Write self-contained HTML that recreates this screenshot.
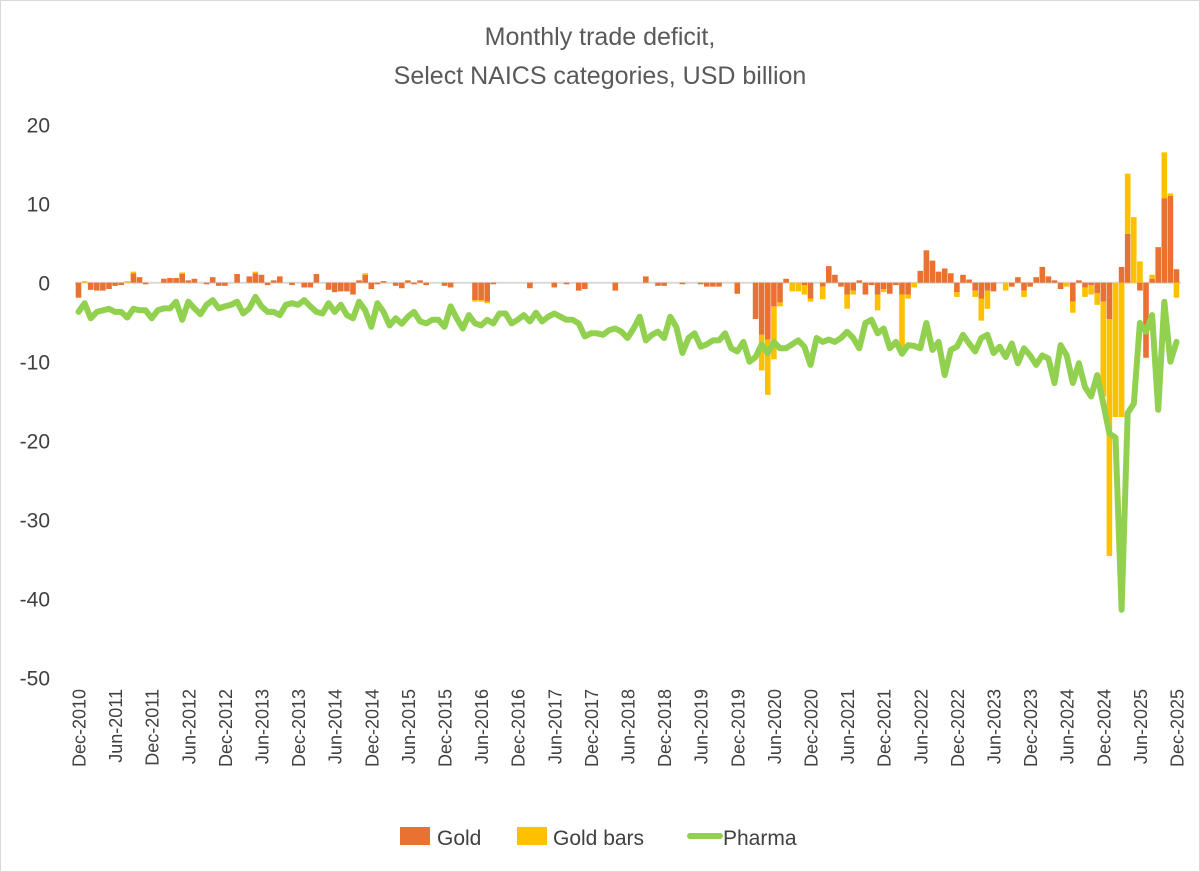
<!DOCTYPE html>
<html><head><meta charset="utf-8"><style>
html,body{margin:0;padding:0;background:#fff;}
svg{display:block;font-family:"Liberation Sans",Arial,sans-serif;}
</style></head><body>
<svg id="chart" width="1200" height="872" viewBox="0 0 1200 872">
<rect x="0.5" y="0.5" width="1199" height="871" fill="#fff" stroke="#d9d9d9"/>
<text x="600" y="45" text-anchor="middle" font-size="25" fill="#595959">Monthly trade deficit,</text>
<text x="600" y="84" text-anchor="middle" font-size="25" fill="#595959">Select NAICS categories, USD billion</text>
<g id="yaxis"></g>
<g id="xaxis"></g>
<g id="plot"></g>
<g>
<g><rect x="400" y="827" width="30" height="18" fill="#e97132"/><text x="437" y="845" font-size="21" fill="#404040">Gold</text></g>
<g><rect x="517" y="827" width="30" height="18" fill="#ffc000"/><text x="553" y="845" font-size="21" fill="#404040">Gold bars</text></g>
<g><line x1="690" y1="836" x2="720" y2="836" stroke="#92d050" stroke-width="6" stroke-linecap="round"/><text x="723" y="845" font-size="21" fill="#404040">Pharma</text></g>
</g>
</svg>
<script>
const yTicks = [20, 10, 0, -10, -20, -30, -40, -50];
const xTickLabels = ["Dec-2010","Jun-2011","Dec-2011","Jun-2012","Dec-2012","Jun-2013","Dec-2013","Jun-2014","Dec-2014","Jun-2015","Dec-2015","Jun-2016","Dec-2016","Jun-2017","Dec-2017","Jun-2018","Dec-2018","Jun-2019","Dec-2019","Jun-2020","Dec-2020","Jun-2021","Dec-2021","Jun-2022","Dec-2022","Jun-2023","Dec-2023","Jun-2024","Dec-2024","Jun-2025","Dec-2025"];
const gold = [-1.9,0,-0.9,-1.0,-1.0,-0.8,-0.4,-0.3,0,1.2,0.7,-0.2,0,0,0.5,0.6,0.6,1.1,0.3,0.5,0,-0.2,0.7,-0.4,-0.4,0,1.1,0,0.8,1.2,1.0,-0.3,0.3,0.8,0,-0.3,0,-0.6,-0.6,1.1,0,-0.9,-1.2,-1.1,-1.1,-1.5,0.3,1.0,-0.8,-0.2,0.2,0,-0.4,-0.7,0.3,-0.2,0.3,-0.3,0,0,-0.4,-0.6,0,0,0,-2.2,-2.2,-2.4,-0.2,0,0,0,0,0,-0.7,0,0,0,-0.6,0,-0.2,0,-1.0,-0.8,0,0,0,0,-1.0,0,0,0,0,0.8,0,-0.4,-0.4,0,0,-0.2,0,0,-0.2,-0.5,-0.5,-0.5,0,0,-1.4,0,0,-4.6,-6.6,-7.2,-3.0,-2.5,0.5,0,0,-0.3,-2.0,0,-0.5,2.1,1.0,-0.5,-1.5,-1.0,0.3,-1.5,-0.3,-1.5,-0.8,-1.4,-0.3,-1.5,-1.5,0,1.5,4.1,2.8,1.4,1.8,1.2,-1.2,1.0,0.4,-1.0,-2.0,-1.0,-1.1,0,0,-0.5,0.7,-1.0,-0.5,0.7,2.0,0.8,0.3,-0.8,0,-2.4,0.3,-0.6,-0.3,-1.3,-2.4,-4.6,0,2.0,6.2,0,-1.0,-9.5,0.5,4.5,10.7,11.0,1.7];
const goldBars = [0,0.2,0,0,0,0,0,0,0.2,0.2,0,0,0,0,0,0,0,0.2,0,0,0,0,0,0,0,0,0,0,0,0.2,0,0,0,0,0,0,0,0,0,0,0,0,0,0,0,0,0,0.2,0,0,0,0,0,0,0,0,0,0,0,0,0,0,0,0,0,-0.2,-0.2,-0.2,0,0,0,0,0,0,0,0,0,0,0,0,0,0,0,0,0,0,0,0,0,0,0,0,0,0,0,0,0,0,0,0,0,0,0,0,0,0,0,0,0,0,0,0,-4.5,-7.0,-6.7,-0.5,0,-1.1,-1.1,-1.2,-0.4,0,-1.6,0,0,0,-1.8,-0.5,0,0,0,-2.0,-0.4,0,0,-7.0,-0.5,-0.6,0,0,0,0,0,0,-0.6,0,0,-0.8,-2.8,-2.3,0,0,-1.0,0,0,-0.8,0,0,0,0,0,0,-0.5,-1.4,0,-1.2,-1.2,-1.5,-12.0,-30.0,-17.0,-17.0,7.6,8.3,2.7,0,0.5,0,5.8,0.3,-1.9];
const pharma = [-3.7,-2.6,-4.5,-3.7,-3.5,-3.3,-3.7,-3.7,-4.4,-3.3,-3.5,-3.5,-4.5,-3.5,-3.25,-3.25,-2.4,-4.7,-2.4,-3.25,-4.0,-2.8,-2.2,-3.25,-3.0,-2.8,-2.4,-3.9,-3.25,-1.8,-3.0,-3.7,-3.7,-4.1,-2.8,-2.6,-2.8,-2.2,-3.0,-3.7,-3.9,-2.6,-3.7,-2.8,-4.1,-4.5,-2.4,-3.5,-5.6,-2.6,-3.7,-5.4,-4.5,-5.2,-4.3,-3.7,-4.9,-5.15,-4.7,-4.7,-5.6,-3.0,-4.5,-5.8,-4.1,-5.15,-5.4,-4.7,-5.15,-3.9,-3.9,-5.15,-4.7,-4.1,-4.9,-3.8,-4.9,-4.3,-3.9,-4.3,-4.7,-4.7,-5.15,-6.8,-6.4,-6.4,-6.6,-6.0,-5.8,-6.2,-7.0,-5.8,-4.3,-7.3,-6.6,-6.2,-7.0,-4.3,-5.6,-8.9,-7.0,-6.4,-8.1,-7.8,-7.3,-7.3,-6.4,-8.3,-8.7,-7.5,-10.0,-9.4,-7.8,-8.9,-7.5,-8.3,-8.3,-7.8,-7.3,-8.1,-10.4,-7.0,-7.5,-7.2,-7.5,-7.0,-6.2,-7.0,-8.3,-5.1,-4.7,-6.4,-5.8,-8.3,-7.5,-9.0,-7.9,-8.0,-8.3,-5.1,-8.5,-7.5,-11.7,-8.5,-8.1,-6.6,-7.7,-8.7,-7.0,-6.6,-8.9,-8.1,-9.4,-7.7,-10.2,-8.3,-9.2,-10.4,-9.2,-9.6,-12.7,-7.9,-9.2,-12.7,-10.2,-13.2,-14.4,-11.7,-15.3,-19.1,-19.6,-41.4,-16.5,-15.3,-5.1,-6.2,-4.1,-16.1,-2.4,-10.0,-7.5];

const NS = "http://www.w3.org/2000/svg";
const x0 = 78.5, step = 6.1, barW = 5.6;
function xScale(i){ return x0 + i*step; }
function yScale(v){ return 282.7 - v*7.9; }
function mk(tag, attrs, parent){ const e=document.createElementNS(NS,tag); for(const k in attrs) e.setAttribute(k,attrs[k]); parent.appendChild(e); return e; }

const yaxis=document.getElementById('yaxis');
yTicks.forEach(t=>{
  const e=mk('text',{x:50,y:yScale(t)+8,'text-anchor':'end','font-size':21,fill:'#404040'},yaxis);
  e.textContent=String(t);
  
  
});
const xaxis=document.getElementById('xaxis');
xTickLabels.forEach((lab,k)=>{
  const x=xScale(k*6)+7;
  const e=mk('text',{x:0,y:0,'text-anchor':'end','font-size':18,fill:'#404040',transform:`translate(${x},689) rotate(-90)`},xaxis);
  e.textContent=lab;
  
  
});
const plot=document.getElementById('plot');
const zl=mk('line',{x1:75,x2:1181,y1:yScale(0),y2:yScale(0),stroke:'#d9d9d9','stroke-width':2},plot);


for(let i=0;i<gold.length;i++){
  let pos=0, neg=0;
  [[gold[i],'#e97132','gold'],[goldBars[i],'#ffc000','gold-bars']].forEach(([v,c,n])=>{
    if(!v) return;
    let a,b;
    if(v>0){a=pos;b=pos+v;pos=b;} else {a=neg;b=neg+v;neg=b;}
    const y1=yScale(Math.max(a,b)), y2=yScale(Math.min(a,b));
    const r=mk('rect',{x:xScale(i)-barW/2,y:y1,width:barW,height:Math.max(0.5,y2-y1),fill:c},plot);
    
    
  });
}
const pts=pharma.map((v,i)=>xScale(i).toFixed(1)+','+yScale(v).toFixed(1)).join(' ');
const pl=mk('polyline',{points:pts,fill:'none',stroke:'#92d050','stroke-width':6,'stroke-linejoin':'round','stroke-linecap':'round'},plot);


</script>
</body></html>
